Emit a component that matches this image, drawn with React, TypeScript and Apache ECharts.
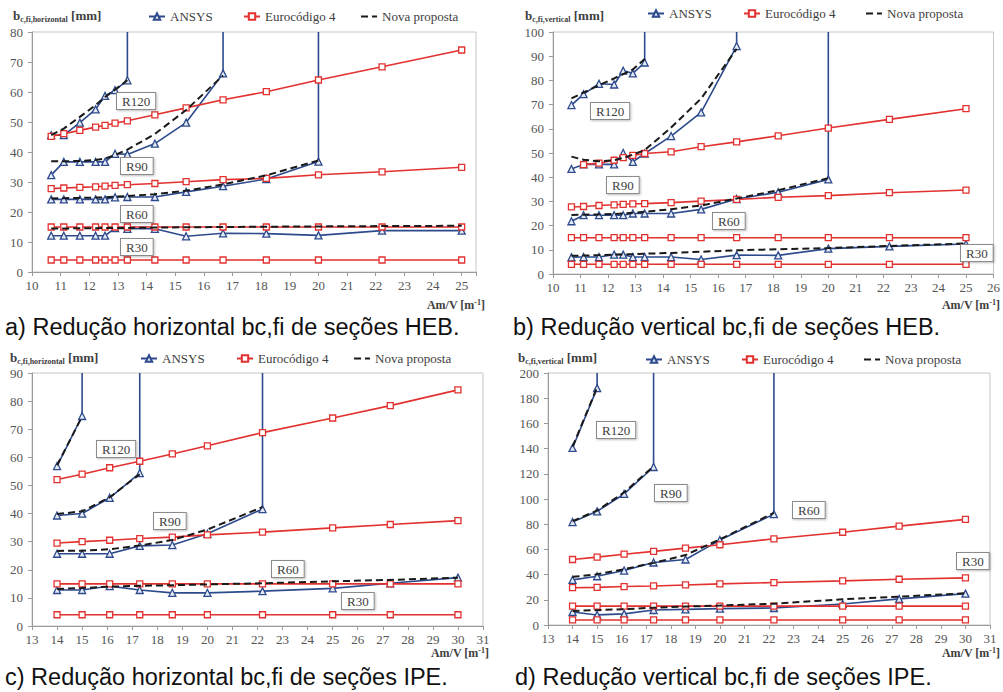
import React, { useEffect, useRef } from 'react';
import * as echarts from 'echarts';

const BLUE = '#2c4a8c';
const RED = '#e2312f';
const DASH = '#1a1a1a';
const SERIF = '"Liberation Serif", "Times New Roman", serif';
const SANS = '"Liberation Sans", Arial, sans-serif';

// Section factors Am/V [1/m]
const xHEB = [10.67, 11.11, 11.67, 12.22, 12.55, 12.9, 13.33, 14.29, 15.38, 16.67, 18.18, 20, 22.22, 25];
const xIPE = [14, 15, 16.1, 17.3, 18.6, 20, 22.2, 25, 27.3, 30];

// a) HEB horizontal
const aEC_R30 = [4, 4, 4, 4, 4, 4, 4, 4, 4, 4, 4, 4, 4, 4];
const aEC_R60 = [15, 15, 15, 15, 15, 15, 15, 15, 15, 15, 15, 15, 15, 15];
const aEC_R90 = [27.8, 28.0, 28.2, 28.4, 28.6, 28.9, 29.1, 29.5, 30.1, 30.8, 31.2, 32.4, 33.4, 34.9];
const aEC_R120 = [45.2, 46.1, 47.2, 48.3, 48.9, 49.6, 50.4, 52.4, 54.7, 57.4, 60.1, 64.0, 68.4, 74.0];
const aAN_R30 = [12.1, 12.1, 12.1, 12.1, 12.1, 14.6, 14.4, 14.4, 11.9, 12.9, 12.8, 12.2, 13.8, 13.8];
const aAN_R60 = [24.2, 24.2, 24.2, 24.2, 24.2, 24.9, 25.0, 25.0, 26.7, 28.6, 31.0, 36.8];
const aAN_R90 = [32.3, 36.7, 36.7, 36.7, 36.7, 39.4, 39.2, 42.8, 49.8, 66.2];
const aAN_R120 = [45.6, 45.6, 49.8, 54.2, 58.7, 60.6, 63.9];
const aNP_R30 = [14.5, 14.5, 14.6, 14.6, 14.7, 14.7, 14.7, 14.8, 14.9, 15.0, 15.1, 15.2, 15.3, 15.4];
const aNP_R60 = [24.5, 24.6, 24.7, 24.8, 24.9, 25.1, 25.3, 25.9, 27.1, 29.2, 32.2, 37.2];
const aNP_R90 = [36.9, 36.9, 37.0, 37.3, 37.8, 39.0, 40.8, 46.0, 54.0, 65.5];
const aNP_R120 = [45.6, 47.8, 51.7, 55.6, 58.3, 60.8, 63.9];

// b) HEB vertical
const bEC_R30 = [4, 4, 4, 4, 4, 4, 4, 4, 4, 4, 4, 4, 4, 4];
const bEC_R60 = [15, 15, 15, 15, 15, 15, 15, 15, 15, 15, 15, 15, 15, 15];
const bEC_R90 = [27.7, 27.9, 28.3, 28.6, 28.8, 29.0, 29.1, 29.5, 30.1, 30.8, 31.7, 32.4, 33.6, 34.7];
const bEC_R120 = [45.2, 45.8, 47.0, 48.1, 49.0, 49.8, 50.5, 52.6, 54.6, 57.1, 60.3, 63.9, 68.3];
const bAN_R30 = [6.9, 7.0, 7.0, 8.0, 8.0, 7.0, 7.0, 7.0, 6.0, 7.8, 7.7, 10.5, 11.4, 12.4];
const bAN_R60 = [21.8, 24.3, 24.3, 24.3, 24.3, 25.0, 25.0, 25.0, 26.7, 31.0, 33.8, 39.1];
const bAN_R90 = [43.4, 45.3, 45.3, 45.3, 50.0, 46.3, 49.8, 57.0, 66.8, 94.2];
const bAN_R120 = [69.8, 74.3, 78.6, 78.3, 84.0, 82.9, 87.4];
const bNP_R30 = [7.5, 7.6, 7.8, 8.0, 8.1, 8.2, 8.4, 8.7, 9.2, 9.8, 10.2, 10.7, 11.6, 12.6];
const bNP_R60 = [24.4, 24.5, 24.6, 24.8, 25.0, 25.3, 25.7, 26.8, 28.3, 31.2, 34.6, 39.6];
const bNP_R90 = [48.5, 47.2, 46.6, 47.0, 48.0, 49.3, 51.2, 60.5, 72.5, 93.0];
const bNP_R120 = [72.6, 75.0, 78.0, 80.8, 82.6, 84.5, 88.8];

// c) IPE horizontal
const cEC_R30 = [4, 4, 4, 4, 4, 4, 4, 4, 4, 4];
const cEC_R60 = [15, 15, 15, 15, 15, 15, 15, 15, 15, 15];
const cEC_R90 = [29.5, 30.0, 30.5, 31.1, 31.6, 32.4, 33.4, 34.9, 36.1, 37.5];
const cEC_R120 = [52.1, 54.0, 56.3, 58.6, 61.2, 64.1, 68.8, 74.0, 78.4, 84.0];
const cAN_R30 = [12.8, 12.8, 14.2, 12.8, 11.8, 11.8, 12.4, 13.4, 15.2, 17.2];
const cAN_R60 = [25.7, 25.7, 25.7, 28.5, 28.8, 32.8, 41.6];
const cAN_R90 = [39.3, 40.0, 45.6, 54.4];
const cAN_R120 = [56.9, 74.7];
const cNP_R30 = [13.2, 13.5, 14.0, 14.3, 14.5, 14.8, 15.2, 15.9, 16.4, 17.2];
const cNP_R60 = [26.7, 26.8, 27.3, 28.6, 30.6, 34.3, 42.3];
const cNP_R90 = [39.8, 40.8, 45.8, 54.0];
const cNP_R120 = [57.2, 74.5];

// d) IPE vertical
const dEC_R30 = [4, 4, 4, 4, 4, 4, 4, 4, 4, 4];
const dEC_R60 = [15, 15, 15, 15, 15, 15, 15, 15, 15, 15];
const dEC_R90 = [29.6, 29.9, 30.5, 31.0, 31.8, 32.6, 33.7, 35.0, 36.3, 37.4];
const dEC_R120 = [52.0, 53.9, 56.2, 58.4, 61.0, 63.7, 68.4, 73.6, 78.5, 83.8];
const dAN_R30 = [10.3, 8.0, 8.8, 11.9, 12.4, 13.0, 13.5, 16.7, 20.7, 24.9];
const dAN_R60 = [35.8, 38.7, 43.2, 49.6, 52.0, 67.4, 88.0];
const dAN_R90 = [81.7, 90.2, 104.0, 125.4];
const dAN_R120 = [140.5, 188.0];
const dNP_R30 = [11.1, 11.8, 12.6, 13.7, 14.6, 15.4, 16.9, 20.4, 22.5, 25.2];
const dNP_R60 = [38.2, 40.2, 44.3, 49.3, 55.5, 68.0, 89.0];
const dNP_R90 = [82.5, 90.8, 105.2, 126.0];
const dNP_R120 = [141.5, 188.5];

const LEGEND_NAMES = ['ANSYS', 'Eurocódigo 4', 'Nova proposta'];
const RATINGS = ['R30', 'R60', 'R90', 'R120'];

const panels = [
  {
    grid: { left: 32, top: 32, width: 444, height: 240 },
    xMin: 10, xMax: 25.5, yMax: 80, yInt: 10, xs: xHEB,
    ec: [aEC_R30, aEC_R60, aEC_R90, aEC_R120],
    an: [aAN_R30, aAN_R60, aAN_R90, aAN_R120],
    np: [aNP_R30, aNP_R60, aNP_R90, aNP_R120],
    ecStart: [0, 0, 0, 0],
    legendLeft: [148, 243, 360], legendTop: 10,
    title: { x: 13, y: 15, sub: 'c,fi,horizontal' },
    xName: { x: 485, y: 305 },
    caption: { x: 5, y: 327, text: 'a) Redução horizontal bc,fi de seções HEB.' },
    boxes: [[121, 239], [121, 206], [121, 158], [117, 93]],
  },
  {
    grid: { left: 553, top: 32, width: 441, height: 242 },
    xMin: 10, xMax: 26, yMax: 100, yInt: 10, xs: xHEB,
    ec: [bEC_R30, bEC_R60, bEC_R90, bEC_R120],
    an: [bAN_R30, bAN_R60, bAN_R90, bAN_R120],
    np: [bNP_R30, bNP_R60, bNP_R90, bNP_R120],
    ecStart: [0, 0, 0, 1],
    legendLeft: [647, 743, 865], legendTop: 7,
    title: { x: 525, y: 15, sub: 'c,fi,vertical' },
    xName: { x: 1000, y: 305 },
    caption: { x: 513, y: 327, text: 'b) Redução vertical bc,fi de seções HEB.' },
    boxes: [[961, 245], [713, 213], [607, 177], [591, 103]],
  },
  {
    grid: { left: 32, top: 373, width: 451, height: 253 },
    xMin: 13, xMax: 31, yMax: 90, yInt: 10, xs: xIPE,
    ec: [cEC_R30, cEC_R60, cEC_R90, cEC_R120],
    an: [cAN_R30, cAN_R60, cAN_R90, cAN_R120],
    np: [cNP_R30, cNP_R60, cNP_R90, cNP_R120],
    ecStart: [0, 0, 0, 0],
    legendLeft: [140, 236, 353], legendTop: 352,
    title: { x: 10, y: 357, sub: 'c,fi,horizontal' },
    xName: { x: 489, y: 653 },
    caption: { x: 5, y: 677, text: 'c) Redução horizontal bc,fi de seções IPE.' },
    boxes: [[342, 593], [272, 561], [154, 513], [97, 441]],
  },
  {
    grid: { left: 548, top: 373, width: 442, height: 252 },
    xMin: 13, xMax: 31, yMax: 200, yInt: 20, xs: xIPE,
    ec: [dEC_R30, dEC_R60, dEC_R90, dEC_R120],
    an: [dAN_R30, dAN_R60, dAN_R90, dAN_R120],
    np: [dNP_R30, dNP_R60, dNP_R90, dNP_R120],
    ecStart: [0, 0, 0, 0],
    legendLeft: [645, 741, 863], legendTop: 353,
    title: { x: 518, y: 357, sub: 'c,fi,vertical' },
    xName: { x: 1000, y: 653 },
    caption: { x: 515, y: 677, text: 'd) Redução vertical bc,fi de seções IPE.' },
    boxes: [[957, 553], [793, 502], [655, 485], [597, 422]],
  },
];

function pairs(xs: number[], ys: number[], start = 0, failAt?: number) {
  const d: any[] = ys.map((y, i) => [xs[i + start], y]);
  if (failAt !== undefined) {
    d.push({ value: [xs[start + ys.length - 1], failAt], symbol: 'none' });
  }
  return d;
}

function buildOption() {
  const grid: any[] = [];
  const xAxis: any[] = [];
  const yAxis: any[] = [];
  const series: any[] = [];
  const legend: any[] = [];
  const graphic: any[] = [];
  const axisColor = '#9a9a9a';
  const labelStyle = { color: '#555', fontFamily: SERIF, fontSize: 13 };

  panels.forEach((p, i) => {
    grid.push({ ...p.grid, show: true, borderColor: '#c6c6c6', borderWidth: 1, containLabel: false });
    xAxis.push({
      type: 'value', gridIndex: i, min: p.xMin, max: p.xMax, interval: 1,
      axisLine: { show: true, onZero: false, lineStyle: { color: axisColor } },
      axisTick: { show: true, length: 4, lineStyle: { color: axisColor } },
      axisLabel: { ...labelStyle, margin: 7, formatter: (v: number) => (Number.isInteger(v) ? String(v) : '') },
      splitLine: { show: false },
    });
    yAxis.push({
      type: 'value', gridIndex: i, min: 0, max: p.yMax, interval: p.yInt,
      axisLine: { show: true, lineStyle: { color: axisColor } },
      axisTick: { show: true, length: 4, lineStyle: { color: axisColor } },
      axisLabel: { ...labelStyle, margin: 9 },
      splitLine: { show: false },
    });
    for (let k = 0; k < 4; k++) {
      series.push({
        type: 'line', name: 'ANSYS', xAxisIndex: i, yAxisIndex: i,
        data: pairs(p.xs, p.an[k], 0, p.an[k].length < p.xs.length ? p.yMax : undefined),
        symbol: 'triangle', symbolSize: 7,
        lineStyle: { color: BLUE, width: 1.6 },
        itemStyle: { color: '#e6eaf4', borderColor: BLUE, borderWidth: 1.3 },
        z: 2,
      });
    }
    for (let k = 0; k < 4; k++) {
      series.push({
        type: 'line', name: 'Eurocódigo 4', xAxisIndex: i, yAxisIndex: i,
        data: pairs(p.xs, p.ec[k], p.ecStart[k]),
        symbol: 'rect', symbolSize: 6,
        lineStyle: { color: RED, width: 1.6 },
        itemStyle: { color: '#ffffff', borderColor: RED, borderWidth: 1.3 },
        z: 3,
      });
    }
    for (let k = 0; k < 4; k++) {
      series.push({
        type: 'line', name: 'Nova proposta', xAxisIndex: i, yAxisIndex: i,
        data: pairs(p.xs, p.np[k]),
        symbol: 'none',
        lineStyle: { color: DASH, width: 2, type: [7, 4] },
        itemStyle: { color: DASH },
        z: 4,
      });
    }
    LEGEND_NAMES.forEach((name, k) => {
      legend.push({
        left: p.legendLeft[k], top: p.legendTop, itemWidth: 16, itemHeight: 8, padding: 0,
        selectedMode: false,
        data: [k === 2 ? { name, itemStyle: { opacity: 0 } } : name],
        textStyle: { fontFamily: SERIF, fontSize: 13, color: '#404040' },
      });
    });
    graphic.push({
      type: 'text', x: p.title.x, y: p.title.y, z: 100,
      style: {
        text: `{b|b}{s|${p.title.sub}} {b|[mm]}`,
        verticalAlign: 'middle',
        rich: {
          b: { fontFamily: SERIF, fontWeight: 'bold', fontSize: 13, fill: '#404040', lineHeight: 16 },
          s: { fontFamily: SERIF, fontWeight: 'bold', fontSize: 8, fill: '#404040', lineHeight: 8, verticalAlign: 'bottom' },
        },
      },
    });
    graphic.push({
      type: 'text', x: p.xName.x, y: p.xName.y, z: 100,
      style: {
        text: '{n|Am/V [m}{u|-1}{n|]}',
        align: 'right', verticalAlign: 'middle',
        rich: {
          n: { fontFamily: SERIF, fontWeight: 'bold', fontSize: 12, fill: '#404040', lineHeight: 14 },
          u: { fontFamily: SERIF, fontWeight: 'bold', fontSize: 8, fill: '#404040', lineHeight: 8, verticalAlign: 'top' },
        },
      },
    });
    graphic.push({
      type: 'text', x: p.caption.x, y: p.caption.y, z: 100,
      style: { text: p.caption.text, fontFamily: SANS, fontSize: 23.5, fill: '#111', verticalAlign: 'middle' },
    });
    p.boxes.forEach((b, k) => {
      graphic.push({
        type: 'text', x: b[0], y: b[1], z: 100,
        style: {
          text: RATINGS[k], fontFamily: SERIF, fontSize: 13, fill: '#404040',
          backgroundColor: '#ffffff', borderColor: '#8a8a8a', borderWidth: 1,
          padding: [2, 5, 1, 5],
          shadowColor: 'rgba(0,0,0,0.25)', shadowBlur: 2, shadowOffsetX: 1, shadowOffsetY: 1,
        },
      });
    });
  });

  return { animation: false, backgroundColor: '#ffffff', grid, xAxis, yAxis, series, legend, graphic };
}

export default function App() {
  const ref = useRef<HTMLDivElement>(null);
  useEffect(() => {
    if (!ref.current) return;
    const chart = echarts.init(ref.current, undefined, { renderer: 'svg' });
    chart.setOption(buildOption() as any);
    return () => chart.dispose();
  }, []);
  return (
    <div
      ref={ref}
      style={{ position: 'absolute', left: 0, top: 0, width: 1003, height: 692, background: '#fff' }}
    />
  );
}
